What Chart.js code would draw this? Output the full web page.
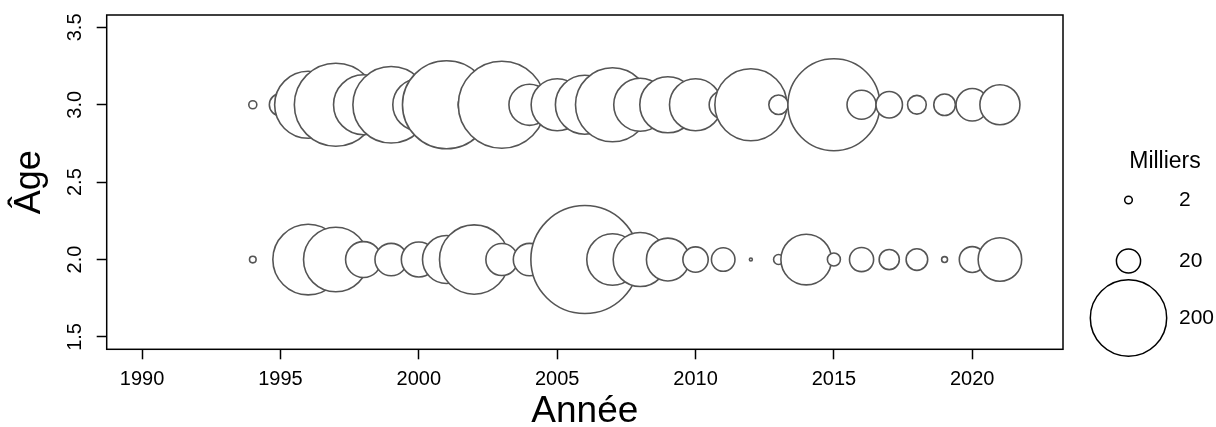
<!DOCTYPE html>
<html>
<head>
<meta charset="utf-8">
<script src="https://cdn.jsdelivr.net/npm/chart.js@4.4.1/dist/chart.umd.min.js"></script>
<style>
  html, body { margin: 0; padding: 0; background: #fff; }
  #wrap { width: 1216px; height: 427px; }
</style>
</head>
<body>
<div id="wrap"><canvas id="c" width="1216" height="427"></canvas></div>
<script>
// Survey years
const years = [1994, 1995, 1996, 1997, 1998, 1999, 2000, 2001, 2002, 2003, 2004,
               2005, 2006, 2007, 2008, 2009, 2010, 2011, 2012, 2013, 2014, 2015,
               2016, 2017, 2018, 2019, 2020, 2021];

// Abundance in thousands, age 3 (null = no value)
const age3 = [2.2, 17, 154, 236, 123, 201, 93, 266, 35, 260, 58,
              93, 119, 188, 96, 108, 93, 27, 178, 13, null, 290,
              29, 24, 12, 16, 36, 55];

// Abundance in thousands, age 2
const age2 = [1.5, null, 171, 143, 44, 36, 42, 79, 165, 35, 36,
              null, 400, 91, 100, 63, 22, 19, 0.3, 3.4, 88, 5.8,
              20, 14, 16, 1.2, 23, 65];

const xTicks = [1990, 1995, 2000, 2005, 2010, 2015, 2020];
const yTicks = [1.5, 2.0, 2.5, 3.0, 3.5];
const legendValues = [2, 20, 200];

const FONT = '"Liberation Sans", Arial, sans-serif';

// circle area proportional to abundance
const K = 2.7;
const radiusOf = v => K * Math.sqrt(v);

function points(vals, age) {
  return years
    .map((yr, i) => (vals[i] == null ? null : { x: yr, y: age, r: radiusOf(vals[i]) }))
    .filter(Boolean);
}

// frame, rotated y tick labels and size legend
const decor = {
  id: 'decor',
  afterDraw(chart) {
    const { ctx, chartArea: a, scales: { y } } = chart;
    ctx.save();
    ctx.strokeStyle = '#000';
    ctx.lineWidth = 1.5;
    ctx.strokeRect(a.left, a.top, a.right - a.left, a.bottom - a.top);

    ctx.fillStyle = '#000';
    ctx.font = '20px ' + FONT;
    ctx.textAlign = 'center';
    ctx.textBaseline = 'middle';
    yTicks.forEach(v => {
      const py = y.getPixelForValue(v);
      ctx.save();
      ctx.translate(75, py);
      ctx.rotate(-Math.PI / 2);
      ctx.fillText(v.toFixed(1), 0, 0);
      ctx.restore();
    });

    // legend
    const cx = 1128.5;
    const rowY = [200, 261, 318];
    ctx.font = '23px ' + FONT;
    ctx.textAlign = 'center';
    ctx.fillText('Milliers', 1165, 162);
    ctx.font = '21px ' + FONT;
    ctx.textAlign = 'left';
    legendValues.forEach((v, i) => {
      const r = radiusOf(v);
      ctx.beginPath();
      ctx.arc(cx, rowY[i], r, 0, Math.PI * 2);
      ctx.fillStyle = '#fff';
      ctx.fill();
      ctx.strokeStyle = '#000';
      ctx.lineWidth = 1.5;
      ctx.stroke();
      ctx.fillStyle = '#000';
      ctx.fillText(String(v), Math.max(1179, cx + r + 6), rowY[i]);
    });
    ctx.restore();
  }
};

const bubbleStyle = { backgroundColor: '#fff', borderColor: '#555', borderWidth: 1.6 };

new Chart(document.getElementById('c'), {
  type: 'bubble',
  data: {
    datasets: [
      Object.assign({ label: 'Âge 3', data: points(age3, 3) }, bubbleStyle),
      Object.assign({ label: 'Âge 2', data: points(age2, 2) }, bubbleStyle)
    ]
  },
  options: {
    responsive: false,
    animation: false,
    events: [],
    layout: { autoPadding: false, padding: { left: 0, top: 13.3, right: 153, bottom: 0 } },
    plugins: { legend: { display: false }, tooltip: { enabled: false } },
    scales: {
      x: {
        type: 'linear',
        position: 'bottom',
        min: 1988.72,
        max: 2023.28,
        afterBuildTicks: s => { s.ticks = xTicks.map(v => ({ value: v })); },
        afterFit: s => { s.height = 77.7; },
        grid: { drawOnChartArea: false, drawTicks: true, tickLength: 10, tickWidth: 1.5, tickColor: '#000' },
        border: { display: false },
        ticks: {
          color: '#000', font: { family: FONT, size: 20 }, padding: 8,
          maxRotation: 0, autoSkip: false, callback: v => String(v)
        },
        title: {
          display: true, text: 'Année', color: '#000',
          font: { family: FONT, size: 37, lineHeight: 0.8 }, padding: { top: 0, bottom: 0 }
        }
      },
      y: {
        type: 'linear',
        position: 'left',
        min: 1.42,
        max: 3.58,
        afterBuildTicks: s => { s.ticks = yTicks.map(v => ({ value: v })); },
        afterFit: s => { s.width = 106.7; },
        grid: { drawOnChartArea: false, drawTicks: true, tickLength: 10, tickWidth: 1.5, tickColor: '#000' },
        border: { display: false },
        ticks: { color: 'rgba(0,0,0,0)', font: { family: FONT, size: 20 } },
        title: {
          display: true, text: 'Âge', color: '#000',
          font: { family: FONT, size: 36, lineHeight: 1 }, padding: { top: 12, bottom: 0 }
        }
      }
    }
  },
  plugins: [decor]
});
</script>
</body>
</html>
